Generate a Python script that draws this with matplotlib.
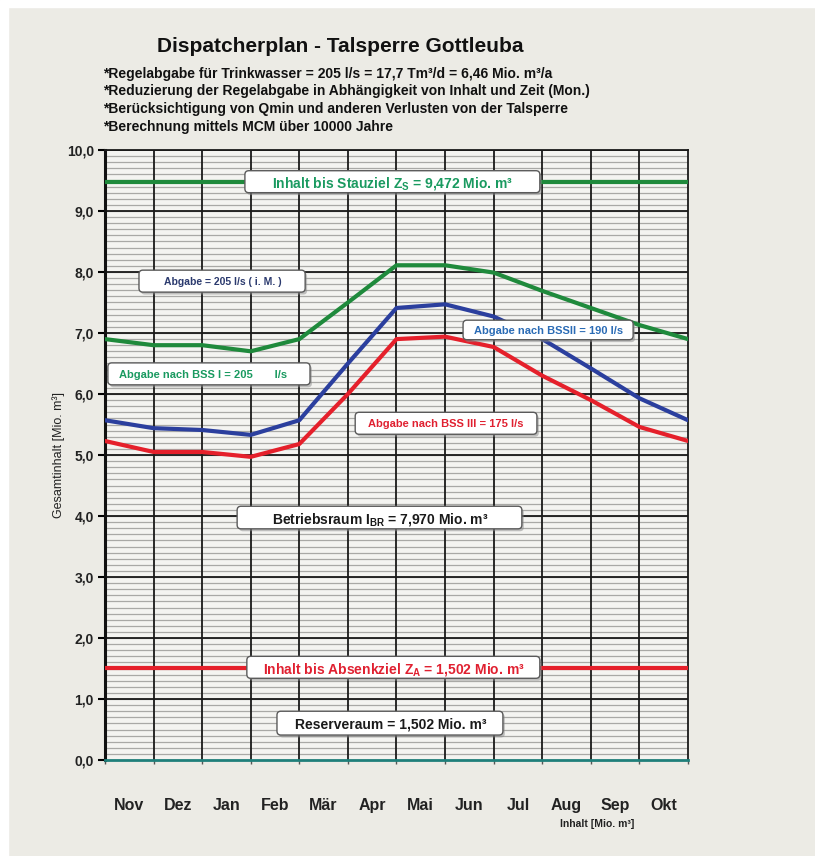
"""
Dispatcherplan der Talsperre Gottleuba nachzeichnen
"""
import matplotlib.pyplot as plt
from matplotlib.patches import Rectangle, FancyBboxPatch
import numpy as np

plt.rcParams['font.family'] = ['Liberation Sans', 'DejaVu Sans']
plt.rcParams['font.weight'] = 'bold'
plt.rcParams['mathtext.fontset'] = 'custom'
plt.rcParams['mathtext.rm'] = 'Liberation Sans:bold'

# Monatsgrenzen 0..12 (Nov Anfang bis Okt Ende)
months = ['Nov', 'Dez', 'Jan', 'Feb', 'Mär', 'Apr', 'Mai', 'Jun', 'Jul', 'Aug', 'Sep', 'Okt']
bss1 = [6.90, 6.80, 6.80, 6.70, 6.90, 7.50, 8.11, 8.11, 7.99, 7.69, 7.41, 7.13, 6.90]
bss2 = [5.57, 5.44, 5.41, 5.33, 5.57, 6.50, 7.41, 7.47, 7.27, 6.90, 6.42, 5.93, 5.57]
bss3 = [5.23, 5.05, 5.05, 4.97, 5.18, 6.00, 6.90, 6.94, 6.77, 6.30, 5.90, 5.46, 5.23]
stauziel = 9.472
absenkziel = 1.502

notes = ['*Regelabgabe für Trinkwasser = 205 l/s = 17,7 Tm³/d = 6,46 Mio. m³/a',
         '*Reduzierung der Regelabgabe in Abhängigkeit von Inhalt und Zeit (Mon.)',
         '*Berücksichtigung von Qmin und anderen Verlusten von der Talsperre',
         '*Berechnung mittels MCM über 10000 Jahre']

green = '#1f8a3c'
blue = '#2b3f9e'
red = '#e5202b'
bg = '#ecebe5'

fig = plt.figure(figsize=(8.15, 8.56), dpi=100, facecolor=bg)
# weisser Rand oben und links
fig.patches.append(Rectangle((0, 0.992), 1, 0.008, transform=fig.transFigure, color='white', zorder=0))
fig.patches.append(Rectangle((0, 0), 0.01, 1, transform=fig.transFigure, color='white', zorder=0))

ax = fig.add_axes([0.1288, 0.1121, 0.7154, 0.7127])
ax.set_facecolor('#f4f4f1')
ax.set_xlim(0, 12)
ax.set_ylim(0, 10)

# Raster
for y in np.arange(0.1, 10, 0.1):
    ax.axhline(y, color='#a9a9a6', lw=0.9, zorder=1)
for y in range(1, 11):
    ax.axhline(y, color='#1a1a1a', lw=1.3, zorder=2)
for x in range(1, 12):
    ax.axvline(x, color='#1a1a1a', lw=1.3, zorder=2)

xs = np.arange(13)
ax.axhline(stauziel, color=green, lw=3, zorder=3)
ax.axhline(absenkziel, color=red, lw=3, zorder=3)
ax.plot(xs, bss1, color=green, lw=3, zorder=4)
ax.plot(xs, bss2, color=blue, lw=3, zorder=4)
ax.plot(xs, bss3, color=red, lw=3, zorder=4)

for s in ['top', 'right']:
    ax.spines[s].set_color('#1a1a1a')
    ax.spines[s].set_linewidth(1.3)
ax.spines['left'].set_color('#111111')
ax.spines['left'].set_linewidth(2.2)
ax.spines['bottom'].set_color('#1f7f7a')
ax.spines['bottom'].set_linewidth(2)

ax.set_yticks(np.arange(0, 11, 1))
ax.set_yticklabels([f'{v:.1f}'.replace('.', ',') for v in range(11)], fontsize=10, color='#222222')
ax.tick_params(axis='y', length=5, width=1.5, pad=3)
ax.set_xticks(xs)
ax.set_xticklabels([])
ax.tick_params(axis='x', which='major', length=3, width=1, color='#555555')
ax.set_xticks(xs[:-1] + 0.5, minor=True)
ax.set_xticklabels(months, minor=True, fontsize=11.5, color='#222222')
ax.tick_params(axis='x', which='minor', length=0, pad=27)

ax.set_ylabel('Gesamtinhalt [Mio. m³]', fontsize=9, color='#222222', labelpad=1)


def label(x0, x1, y0, y1, tx, text, color, size):
    # weisser Kasten mit grauem Rand und Schatten
    shadow = FancyBboxPatch((x0 + 0.04, y0 - 0.04), x1 - x0, y1 - y0,
                            boxstyle='round,pad=0,rounding_size=0.08', mutation_aspect=0.8,
                            facecolor='#8a8a8a', edgecolor='none', alpha=0.5, zorder=5)
    ax.add_patch(shadow)
    b = FancyBboxPatch((x0, y0), x1 - x0, y1 - y0,
                       boxstyle='round,pad=0,rounding_size=0.08', mutation_aspect=0.8,
                       facecolor='white', edgecolor='#5a5a5a', lw=1, zorder=6)
    ax.add_patch(b)
    ax.text(tx, (y0 + y1) / 2, text, color=color, fontsize=size, ha='center',
            va='center_baseline', zorder=7)


label(2.88, 8.95, 9.30, 9.66, 5.92, r'Inhalt bis Stauziel Z$_\mathrm{S}$ = 9,472 Mio. m³', '#1a9a60', 10)
label(0.70, 4.12, 7.67, 8.03, 2.43, 'Abgabe = 205 l/s ( i. M. )', '#2b3a6e', 7.5)
label(0.06, 4.22, 6.15, 6.51, 2.02, 'Abgabe nach BSS I = 205       l/s', '#1a9a60', 8)
label(7.37, 10.87, 6.89, 7.21, 9.12, 'Abgabe nach BSSII = 190 l/s', '#2a6bb5', 8)
label(5.15, 8.89, 5.34, 5.70, 7.02, 'Abgabe nach BSS III = 175 l/s', '#e02030', 8)
label(2.72, 8.58, 3.79, 4.16, 5.66, r'Betriebsraum I$_\mathrm{BR}$ = 7,970 Mio. m³', '#1a1a1a', 10)
label(2.92, 8.95, 1.34, 1.70, 5.95, r'Inhalt bis Absenkziel Z$_\mathrm{A}$ = 1,502 Mio. m³', '#e02030', 10)
label(3.54, 8.19, 0.41, 0.80, 5.89, 'Reserveraum = 1,502 Mio. m³', '#1a1a1a', 10)

fig.text(340 / 815, 1 - 46 / 856, 'Dispatcherplan - Talsperre Gottleuba', fontsize=15,
         ha='center', va='center', color='#111111')
for i, n in enumerate(notes):
    fig.text(103 / 815, 1 - (74 + 17.5 * i) / 856, n, fontsize=10, ha='left', va='center', color='#111111')
fig.text(597 / 815, 1 - 824 / 856, 'Inhalt [Mio. m³]', fontsize=7.5, ha='center', va='center', color='#222222')

fig.savefig('out.png', dpi=100, facecolor=bg)
